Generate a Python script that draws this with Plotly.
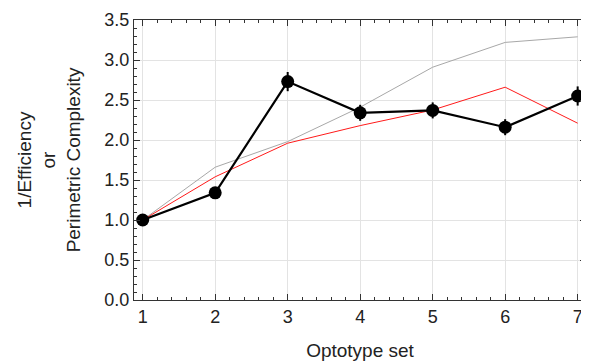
import plotly.graph_objects as go

optotype_set = [1, 2, 3, 4, 5, 6, 7]
inv_efficiency = [1.00, 1.34, 2.73, 2.34, 2.37, 2.16, 2.55]
inv_eff_err = [0.03, 0.05, 0.12, 0.10, 0.10, 0.10, 0.12]
complexity_gray = [1.00, 1.66, 1.98, 2.41, 2.91, 3.22, 3.29]
complexity_red = [1.00, 1.54, 1.96, 2.18, 2.375, 2.66, 2.21]

fig = go.Figure()
fig.add_trace(go.Scatter(x=optotype_set, y=complexity_gray, mode="lines",
                         line=dict(color="#a8a8a8", width=1), showlegend=False))
fig.add_trace(go.Scatter(x=optotype_set, y=complexity_red, mode="lines",
                         line=dict(color="#ff1a1a", width=1), showlegend=False))
fig.add_trace(go.Scatter(x=optotype_set, y=inv_efficiency, mode="lines+markers",
                         line=dict(color="black", width=2.2),
                         marker=dict(color="black", size=13),
                         error_y=dict(type="data", array=inv_eff_err, color="black",
                                      thickness=2, width=0),
                         showlegend=False))

font = "Liberation Sans, Arial, Helvetica, sans-serif"
axis_common = dict(
    showline=True, linecolor="#333333", linewidth=1.2, mirror="ticks",
    ticks="inside", ticklen=6, tickcolor="#333333", tickwidth=1,
    showgrid=True, gridcolor="#e3e3e3", gridwidth=1, zeroline=False,
    tickfont=dict(family=font, size=18, color="#222222"),
)
fig.update_xaxes(range=[0.88, 7.115], tickvals=optotype_set,
                 minor=dict(dtick=0.2, ticklen=3, tickcolor="#333333", ticks="inside", showgrid=False),
                 title=dict(text="Optotype set", font=dict(family=font, size=19, color="#222222"), standoff=17),
                 **axis_common)
fig.update_yaxes(range=[0, 3.5], dtick=0.5, tickformat=".1f",
                 minor=dict(dtick=0.1, ticklen=3, tickcolor="#333333", ticks="inside", showgrid=False),
                 title=dict(text="1/Efficiency<br>or<br>Perimetric Complexity",
                            font=dict(family=font, size=19, color="#222222"), standoff=18),
                 **axis_common)
fig.update_layout(width=581, height=354, margin=dict(l=126, r=3, t=12, b=62),
                  plot_bgcolor="white", paper_bgcolor="white",
                  font=dict(family=font))
fig.write_html("out.html")
